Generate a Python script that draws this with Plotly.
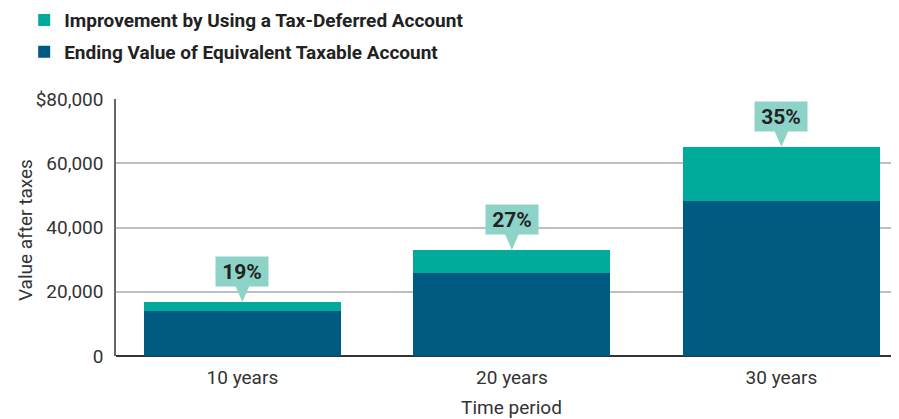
import plotly.graph_objects as go

categories = ["10 years", "20 years", "30 years"]
ending_value = [14000, 25800, 48250]
improvement = [2800, 7200, 16900]
pct_labels = ["19%", "27%", "35%"]
y_tickvals = [0, 20000, 40000, 60000, 80000]
y_ticktext = ["0", "20,000", "40,000", "60,000", "$80,000"]

DARK = "#005a82"
TEAL = "#00ab9b"
CALLOUT = "#8dd3c8"
FONT = "Roboto"

xpos = list(range(len(categories)))
totals = [a + b for a, b in zip(ending_value, improvement)]

fig = go.Figure()
fig.add_trace(go.Bar(x=xpos, y=ending_value, name="Ending Value of Equivalent Taxable Account",
                     marker=dict(color=DARK, line=dict(width=0)), width=0.731,
                     legendgroup="b", legendrank=2))
fig.add_trace(go.Bar(x=xpos, y=improvement, name="Improvement by Using a Tax-Deferred Account",
                     marker=dict(color=TEAL, line=dict(width=0)), width=0.731,
                     legendgroup="a", legendrank=1))

for x, t, lab in zip(xpos, totals, pct_labels):
    fig.add_annotation(x=x, y=t, text="<b>%s</b>" % lab, showarrow=False,
                       xref="x", yref="y", yanchor="bottom", yshift=15,
                       width=50, height=27, bgcolor=CALLOUT,
                       font=dict(family=FONT, size=21, color="#222222"))
    fig.add_shape(type="path", xref="x", yref="y", xsizemode="pixel", ysizemode="pixel",
                  xanchor=x, yanchor=t, path="M -7,16 L 7,16 L 0,0 Z",
                  fillcolor=CALLOUT, line=dict(width=0), layer="above")

# y-axis title as a rotated annotation
fig.add_annotation(text="Value after taxes", xref="paper", yref="paper", x=-0.115, y=0.49,
                   xanchor="center", yanchor="middle", textangle=-90, showarrow=False,
                   font=dict(family=FONT, size=19, color="#333333"))

fig.update_layout(
    template="none",
    barmode="stack",
    width=899, height=419,
    margin=dict(l=108, r=0, t=91, b=71, autoexpand=False),
    paper_bgcolor="white", plot_bgcolor="white",
    font=dict(family=FONT, size=19, color="#333333"),
    showlegend=True,
    legend=dict(x=0.018, xref="container", y=1.381, yref="paper", xanchor="left", yanchor="top",
                traceorder="grouped", tracegroupgap=4, orientation="v",
                font=dict(family=FONT, size=19, color="#222222", weight="bold"),
                itemwidth=30, bgcolor="rgba(0,0,0,0)", borderwidth=0),
    xaxis=dict(range=[-0.469, 2.466], tickvals=xpos, ticktext=categories, showgrid=False,
               zeroline=False, showline=False, ticks="", ticklabelstandoff=8, automargin=False,
               tickfont=dict(size=19, color="#333333"),
               title=dict(text="Time period", font=dict(size=19, color="#333333"), standoff=12)),
    yaxis=dict(range=[0, 80000], tickvals=y_tickvals, ticktext=y_ticktext, showgrid=True,
               gridcolor="#bfbfbf", gridwidth=1.5, zeroline=True, zerolinecolor="#333333", zerolinewidth=1.5,
               showline=True, linecolor="#666666", linewidth=1.5, ticks="", ticklabelstandoff=7,
               automargin=False, tickfont=dict(size=19, color="#333333")),
)

fig.write_html("out.html")
